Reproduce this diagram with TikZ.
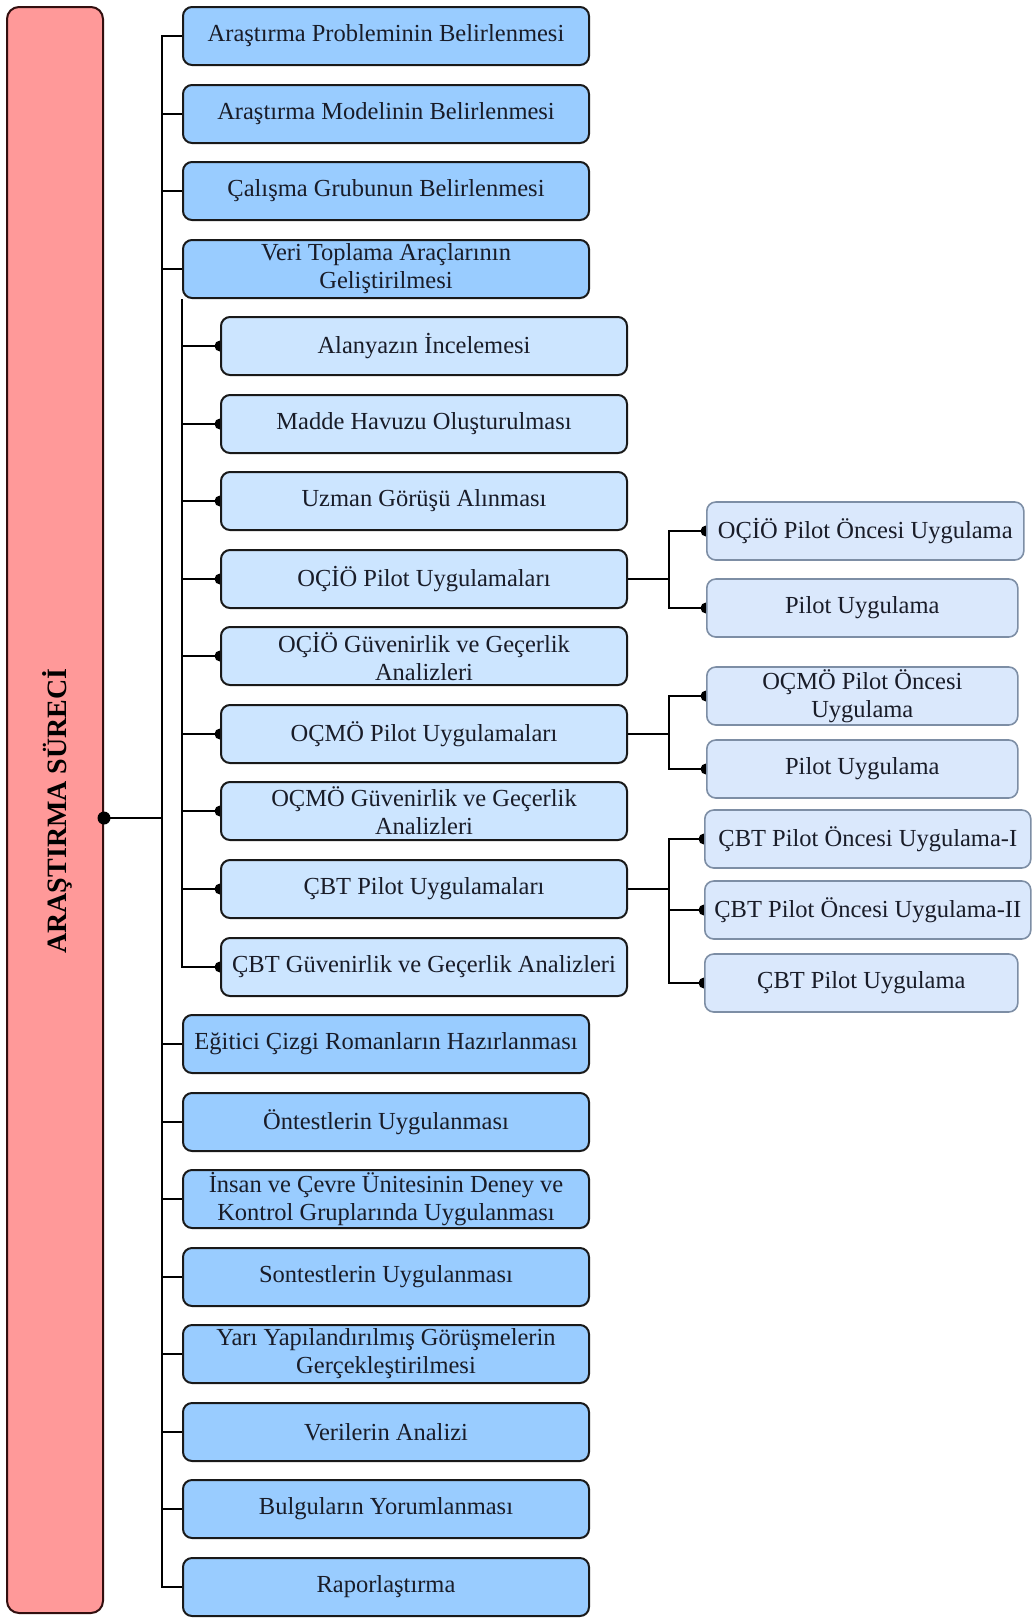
\documentclass[tikz,border=0pt]{standalone}
\usepackage{fontspec}
\setmainfont{Liberation Serif}
\usetikzlibrary{backgrounds,calc}
\definecolor{mainfill}{RGB}{153,204,255}
\definecolor{subfill}{RGB}{204,229,255}
\definecolor{rightfill}{RGB}{218,232,252}
\definecolor{rightdraw}{RGB}{125,142,165}
\definecolor{redfill}{RGB}{255,153,153}
\definecolor{reddraw}{RGB}{50,15,15}
\definecolor{txt}{RGB}{25,28,40}
\begin{document}
\begin{tikzpicture}[x=1pt,y=-1pt,
 box/.style={rectangle, rounded corners=9pt, minimum height=58pt, inner sep=0pt, align=center, text=txt, font=\fontsize{24.5}{28}\selectfont, line width=2pt},
 mainbox/.style={box, fill=mainfill, draw=black!90, minimum width=406pt},
 subbox/.style={box, fill=subfill, draw=black!90, minimum width=406pt},
 rightbox/.style={box, fill=rightfill, draw=rightdraw, line width=1.6pt, anchor=west},
 conn/.style={line width=2pt, black},
 ]
\useasboundingbox (0,0) rectangle (1033,1618);

% root
\node[draw=reddraw, fill=redfill, rounded corners=12pt, line width=2pt, minimum width=96pt, minimum height=1606pt, inner sep=0pt] (red) at (55,810) {};
\node[rotate=90, font=\bfseries\fontsize{28}{30}\selectfont, text=black, text height=18.5pt, text depth=0pt, inner sep=0pt] (redlabel) at (57,811) {ARAŞTIRMA SÜRECİ};

% main boxes
\node[mainbox] (m0) at (386,36) {Araştırma Probleminin Belirlenmesi};
\node[mainbox] (m1) at (386,114) {Araştırma Modelinin Belirlenmesi};
\node[mainbox] (m2) at (386,191) {Çalışma Grubunun Belirlenmesi};
\node[mainbox] (m3) at (386,269) {Veri Toplama Araçlarının\\Geliştirilmesi};

% sub boxes
\node[subbox] (s4) at (424,346) {Alanyazın İncelemesi};
\node[subbox] (s5) at (424,424) {Madde Havuzu Oluşturulması};
\node[subbox] (s6) at (424,501) {Uzman Görüşü Alınması};
\node[subbox] (s7) at (424,579) {OÇİÖ Pilot Uygulamaları};
\node[subbox] (s8) at (424,656) {OÇİÖ Güvenirlik ve Geçerlik\\Analizleri};
\node[subbox] (s9) at (424,734) {OÇMÖ Pilot Uygulamaları};
\node[subbox] (s10) at (424,811) {OÇMÖ Güvenirlik ve Geçerlik\\Analizleri};
\node[subbox] (s11) at (424,889) {ÇBT Pilot Uygulamaları};
\node[subbox] (s12) at (424,967) {ÇBT Güvenirlik ve Geçerlik Analizleri};

% main boxes (cont.)
\node[mainbox] (m13) at (386,1044) {Eğitici Çizgi Romanların Hazırlanması};
\node[mainbox] (m14) at (386,1122) {Öntestlerin Uygulanması};
\node[mainbox] (m15) at (386,1199) {İnsan ve Çevre Ünitesinin Deney ve\\Kontrol Gruplarında Uygulanması};
\node[mainbox] (m16) at (386,1277) {Sontestlerin Uygulanması};
\node[mainbox] (m17) at (386,1354) {Yarı Yapılandırılmış Görüşmelerin\\Gerçekleştirilmesi};
\node[mainbox] (m18) at (386,1432) {Verilerin Analizi};
\node[mainbox] (m19) at (386,1509) {Bulguların Yorumlanması};
\node[mainbox] (m20) at (386,1587) {Raporlaştırma};

% right boxes
\node[rightbox, minimum width=317pt] (r1) at (706,531) {OÇİÖ Pilot Öncesi Uygulama};
\node[rightbox, minimum width=311pt] (r2) at (706,608) {Pilot Uygulama};
\node[rightbox, minimum width=311pt] (r3) at (706,696) {OÇMÖ Pilot Öncesi\\Uygulama};
\node[rightbox, minimum width=311pt] (r4) at (706,769) {Pilot Uygulama};
\node[rightbox, minimum width=326pt] (r5) at (704,839) {ÇBT Pilot Öncesi Uygulama-I};
\node[rightbox, minimum width=326pt] (r6) at (704,910) {ÇBT Pilot Öncesi Uygulama-II};
\node[rightbox, minimum width=313pt] (r7) at (704,983) {ÇBT Pilot Uygulama};

\begin{scope}[on background layer]
  \fill[white] (0,0) rectangle (1033,1618);
  % main trunk
  \coordinate (t0) at ($(m0.west)+(-20,0)$);
  \draw[conn] (m0.west) -- (t0) |- (m20.west);
  \foreach \n in {m1,m2,m3,m13,m14,m15,m16,m17,m18,m19}
    \draw[conn] (\n.west) -- (\n.west -| t0);
  % root link
  \coordinate (rd) at (red.east |- 0,818);
  \draw[conn] (rd) -- (rd -| t0);
  % sub trunk
  \coordinate (st) at (m3.south west);
  \draw[conn] (st) |- (s12.west);
  \foreach \n in {s4,s5,s6,s7,s8,s9,s10,s11} {
    \draw[conn] (\n.west) -- (\n.west -| st);
  }
  \foreach \n in {s4,s5,s6,s7,s8,s9,s10,s11,s12}
    \fill (\n.west) circle (5.5);
  % right groups
  \coordinate (f1) at ($(s7.east)+(41,0)$);
  \draw[conn] (s7.east) -- (f1);
  \draw[conn] (r1.west) -| (f1 |- r2.west) -- (r2.west);
  \coordinate (f2) at ($(s9.east)+(41,0)$);
  \draw[conn] (s9.east) -- (f2);
  \draw[conn] (r3.west) -| (f2 |- r4.west) -- (r4.west);
  \coordinate (f3) at ($(s11.east)+(41,0)$);
  \draw[conn] (s11.east) -- (f3);
  \draw[conn] (r5.west) -| (f3 |- r7.west) -- (r7.west);
  \draw[conn] (r6.west) -- (r6.west -| f3);
  \foreach \n in {r1,r2,r3,r4,r5,r6,r7}
    \fill (\n.west) circle (5.5);
\end{scope}
\fill (rd) circle (6.5);
\end{tikzpicture}
\end{document}
